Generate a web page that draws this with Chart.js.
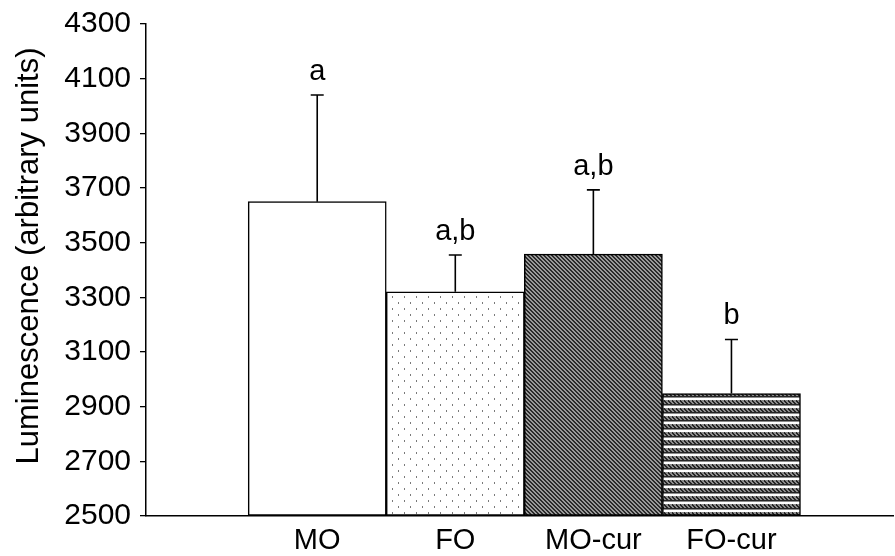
<!DOCTYPE html>
<html>
<head>
<meta charset="utf-8">
<script src="https://cdn.jsdelivr.net/npm/chart.js@4"></script>
<style>
  html, body { margin: 0; padding: 0; background: #fff; }
  #wrap { width: 895px; height: 556px; }
</style>
</head>
<body>
<div id="wrap"><canvas id="lumChart" width="895" height="556"></canvas></div>
<script>
// dati
const groups = ["MO", "FO", "MO-cur", "FO-cur"];
const means = [3650, 3320, 3458, 2948];
const sems = [390, 135, 235, 198];
const letters = ["a", "a,b", "a,b", "b"];
const yTicks = [2500, 2700, 2900, 3100, 3300, 3500, 3700, 3900, 4100, 4300];
const yTitle = "Luminescence (arbitrary units)";

// pattern dei riempimenti (bianco, puntini, tratteggio obliquo, bande)
function makePattern(w, h, draw) {
    const c = document.createElement("canvas");
    c.width = w; c.height = h;
    const g = c.getContext("2d");
    g.fillStyle = "#fff";
    g.fillRect(0, 0, w, h);
    draw(g);
    return g.createPattern(c, "repeat");
}
const ctx = document.getElementById("lumChart").getContext("2d");

const dotPattern = makePattern(12, 12, g => {
    g.fillStyle = "#7a7a7a";
    g.fillRect(2, 2, 1, 2);
    g.fillRect(8, 8, 1, 2);
});
const hatchPattern = makePattern(4, 4, g => {
    g.fillStyle = "#9a9a9a";
    g.fillRect(0, 0, 4, 4);
    g.fillStyle = "#2a2a2a";
    for (let i = 0; i < 4; i++) {
        g.fillRect(i, i, 1, 1);
        g.fillRect((i + 1) % 4, i, 1, 1);
    }
});
// bande orizzontali scure a zig-zag con sottile riga bianca
const bandPattern = makePattern(4, 8, g => {
    g.fillStyle = "#8c8c8c";
    g.fillRect(0, 0, 4, 6);
    g.fillStyle = "#262626";
    for (let i = 0; i < 4; i++) {
        g.fillRect(i, i, 1, 2);
        g.fillRect((i + 2) % 4, 4, 1, 1);
    }
});
const fills = ["#ffffff", dotPattern, hatchPattern, bandPattern];

// barre d'errore (solo verso l'alto), lettere e titolo asse y
const errorBars = {
    id: "errorBars",
    afterDatasetsDraw(chart) {
        const { ctx, scales } = chart;
        const meta = chart.getDatasetMeta(0);
        ctx.save();
        ctx.strokeStyle = "#000";
        ctx.lineWidth = 1.6;
        ctx.fillStyle = "#000";
        ctx.font = "29px 'Liberation Sans', Arial, sans-serif";
        ctx.textAlign = "center";
        ctx.textBaseline = "alphabetic";
        meta.data.forEach((bar, i) => {
            const x = bar.x;
            const yTop = scales.y.getPixelForValue(means[i] + sems[i]);
            const yBar = scales.y.getPixelForValue(means[i]);
            ctx.beginPath();
            ctx.moveTo(x, yBar);
            ctx.lineTo(x, yTop);
            ctx.moveTo(x - 6.5, yTop);
            ctx.lineTo(x + 6.5, yTop);
            ctx.stroke();
            ctx.fillText(letters[i], x, yTop - 15);
        });

        // titolo asse y, un po' più in alto del centro dell'asse
        ctx.font = "31px 'Liberation Sans', Arial, sans-serif";
        ctx.textBaseline = "middle";
        ctx.translate(29, 256);
        ctx.rotate(-Math.PI / 2);
        ctx.fillText(yTitle, 0, 0);
        ctx.restore();
    }
};

new Chart(ctx, {
    type: "bar",
    data: {
        datasets: [{
            data: groups.map((g, i) => ({ x: i + 1, y: means[i] })),
            backgroundColor: fills,
            borderColor: "#000",
            borderWidth: 1.5,
            borderSkipped: false,
            barPercentage: 1,
            categoryPercentage: 1,
            base: 2500
        }]
    },
    options: {
        responsive: false,
        animation: false,
        layout: { padding: { top: 17, right: 2, left: 0, bottom: 0 } },
        plugins: {
            legend: { display: false },
            tooltip: { enabled: false }
        },
        scales: {
            x: {
                type: "linear",
                offset: false,
                min: -0.24,
                max: 5.17,
                afterBuildTicks: s => { s.ticks = groups.map((g, i) => ({ value: i + 1 })); },
                afterFit: s => { s.height = 40; },
                grid: { display: false },
                border: { display: true, color: "#000", width: 1.5 },
                ticks: {
                    color: "#000",
                    font: { family: "'Liberation Sans', Arial", size: 29 },
                    padding: 0,
                    maxRotation: 0,
                    autoSkip: false,
                    callback: v => groups[v - 1] || ""
                }
            },
            y: {
                min: 2500,
                max: 4300,
                afterBuildTicks: s => { s.ticks = yTicks.map(v => ({ value: v })); },
                afterFit: s => { s.width = 146; },
                grid: { display: true, drawOnChartArea: false, drawTicks: true, tickLength: 6, color: "#000", lineWidth: 1.3 },
                border: { display: true, color: "#000", width: 1.5 },
                ticks: {
                    color: "#000",
                    font: { family: "'Liberation Sans', Arial", size: 30, lineHeight: 1 },
                    padding: 9,
                    callback: v => String(v)
                }
            }
        }
    },
    plugins: [errorBars]
});
</script>
</body>
</html>
